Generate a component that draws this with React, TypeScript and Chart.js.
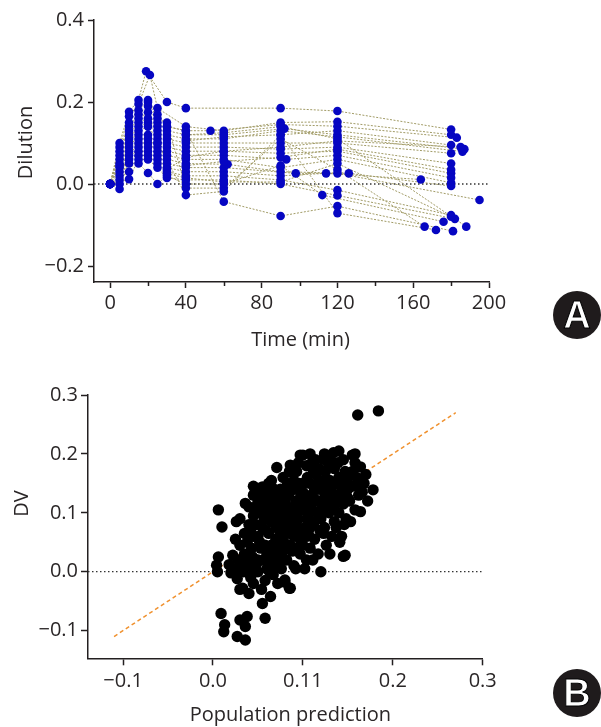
import React, { useEffect, useRef } from "react";
import { Chart, registerables } from "chart.js";
Chart.register(...registerables);

const FONT = "'Open Sans', 'Noto Sans', sans-serif";
const TEXT = "#2a2627";
const AXIS = "#231f20";
const TICK_SIZE = 20;
const TITLE_SIZE = 20;

// ---------- Panel A data ----------
const timeMin = -8.5;
const timeMax = 200;
const dilutionMin = -0.239;
const dilutionMax = 0.4;
const timeTicks = [0, 40, 80, 120, 160, 200];
const timeTickLabels = ["0", "40", "80", "120", "160", "200"];
const timeMinorTicks = [20, 60, 100, 140, 180];
const dilutionTicks = [-0.2, 0, 0.2, 0.4];
const dilutionTickLabels = ["\u22120.2", "0.0", "0.2", "0.4"];

const subjectTimes: number[][] = [
  [0, 5, 10, 15, 19, 30, 40, 90, 120, 180],
  [0, 5, 10, 15, 21, 25, 40, 60, 90, 120, 180],
  [0, 5, 10, 15, 20, 25, 30, 40, 53, 90, 120, 183],
  [0, 5, 10, 15, 20, 25, 30, 40, 60, 92, 120, 187],
  [0, 5, 10, 15, 20, 25, 30, 40, 60, 90, 120, 186],
  [0, 5, 10, 15, 20, 25, 30, 40, 60, 90, 120, 180],
  [0, 5, 10, 15, 20, 25, 30, 40, 60, 90, 120, 180],
  [0, 5, 10, 15, 20, 25, 30, 40, 60, 90, 120, 180],
  [0, 5, 10, 15, 20, 25, 30, 40, 60, 93, 120, 180],
  [0, 5, 10, 15, 20, 25, 30, 40, 60, 90, 120, 180],
  [0, 5, 10, 15, 20, 25, 30, 40, 62, 90, 126, 180],
  [0, 5, 10, 15, 20, 25, 30, 40, 60, 98, 120, 195],
  [0, 5, 10, 15, 20, 25, 30, 40, 60, 90, 114, 164],
  [0, 10, 15, 20, 25, 30, 40, 60, 90, 120, 180],
  [0, 10, 15, 20, 25, 30, 40, 60, 90, 120, 182],
  [15, 20, 25, 30, 40, 60, 90, 112, 176],
  [20, 25, 30, 40, 60, 90, 120, 166],
  [25, 40, 60, 90, 120, 172],
  [30, 40, 60, 90, 120, 181],
  [40, 60, 90, 120, 188],
  [40, 60, 90, 120, 180],
  [30, 40, 60, 90, 120, 185],
  [40, 60, 90, 120, 180],
  [30, 40, 60, 90, 120, 180],
];
const subjectDilution: number[][] = [
  [0, 0.10, 0.176, 0.205, 0.275, 0.20, 0.185, 0.185, 0.178, 0.133],
  [0, 0.09, 0.165, 0.195, 0.266, 0.185, 0.14, 0.13, 0.15, 0.152, 0.12],
  [0, 0.08, 0.15, 0.18, 0.205, 0.17, 0.14, 0.13, 0.13, 0.145, 0.141, 0.113],
  [0, 0.07, 0.14, 0.17, 0.19, 0.15, 0.13, 0.12, 0.12, 0.135, 0.12, 0.085],
  [0, 0.06, 0.13, 0.16, 0.175, 0.14, 0.12, 0.11, 0.11, 0.13, 0.115, 0.079],
  [0, 0.05, 0.12, 0.15, 0.16, 0.13, 0.11, 0.10, 0.10, 0.10, 0.10, 0.075],
  [0, 0.04, 0.11, 0.14, 0.15, 0.12, 0.10, 0.09, 0.09, 0.085, 0.09, 0.05],
  [0, 0.03, 0.10, 0.13, 0.14, 0.11, 0.09, 0.08, 0.08, 0.075, 0.08, 0.026],
  [0, 0.02, 0.09, 0.12, 0.12, 0.10, 0.08, 0.07, 0.07, 0.06, 0.07, 0.015],
  [0, 0.01, 0.08, 0.11, 0.11, 0.09, 0.07, 0.06, 0.06, 0.04, 0.06, 0.003],
  [0, 0.0, 0.07, 0.10, 0.10, 0.08, 0.06, 0.05, 0.048, 0.03, 0.026, -0.005],
  [0, -0.012, 0.06, 0.09, 0.09, 0.07, 0.05, 0.04, 0.04, 0.026, 0.026, -0.039],
  [0, 0.045, 0.05, 0.08, 0.08, 0.06, 0.04, 0.03, 0.03, 0.02, 0.026, 0.011],
  [0, 0.03, 0.07, 0.07, 0.05, 0.03, 0.02, 0.02, 0.01, -0.015, -0.076],
  [0, 0.012, 0.06, 0.06, 0.04, 0.015, 0.01, 0.01, 0.0, -0.028, -0.085],
  [0.05, 0.027, 0.0, 0.02, 0.0, 0.0, 0.045, -0.027, -0.092],
  [0.2, 0.16, 0.15, -0.01, -0.01, 0.11, 0.035, -0.104],
  [0.10, -0.027, -0.018, 0.12, -0.071, -0.112],
  [0.14, 0.13, -0.043, -0.078, -0.054, -0.115],
  [0.12, 0.125, 0.14, 0.11, -0.104],
  [0.105, 0.115, 0.12, 0.13, 0.095],
  [0.035, 0.065, 0.08, 0.09, 0.105, 0.09],
  [0.045, 0.055, 0.065, 0.085, 0.035],
  [0.025, 0.015, 0.005, 0.005, 0.05, -0.08],
];

// ---------- Panel B data ----------
const predMin = -0.139;
const predMax = 0.3;
const dvMin = -0.147;
const dvMax = 0.3;
const predTicks = [-0.1, 0, 0.1, 0.2, 0.3];
const predTickLabels = ["\u22120.1", "0.0", "0.11", "0.2", "0.3"];
const dvTicks = [-0.1, 0, 0.1, 0.2, 0.3];
const dvTickLabels = ["\u22120.1", "0.0", "0.1", "0.2", "0.3"];
const identityRange = [-0.11, 0.27];

const populationPrediction = [
  0.006, 0.010, 0.006, 0.005, 0.004, 0.009, 0.013, 0.012,
  0.018, 0.022, 0.025, 0.027, 0.028, 0.020, 0.027, 0.030, 0.030, 0.026, 0.030,
  0.036, 0.038, 0.036, 0.040, 0.033, 0.036, 0.045, 0.042, 0.035, 0.040, 0.042, 0.038, 0.044, 0.034, 0.045, 0.040, 0.043, 0.045,
  0.055, 0.058, 0.055, 0.050, 0.052, 0.048, 0.050, 0.053, 0.056, 0.050, 0.058, 0.047, 0.055, 0.060, 0.057, 0.059, 0.052, 0.060, 0.049, 0.060, 0.054, 0.058,
  0.064, 0.071, 0.071, 0.064, 0.066, 0.068, 0.062, 0.065, 0.070, 0.063, 0.067, 0.072, 0.074, 0.070, 0.073, 0.069, 0.075, 0.062, 0.066, 0.072, 0.068, 0.074, 0.061, 0.075,
  0.082, 0.086, 0.080, 0.086, 0.085, 0.080, 0.078, 0.080, 0.083, 0.077, 0.085, 0.079, 0.088, 0.082, 0.076, 0.090, 0.087, 0.084, 0.090, 0.081, 0.089, 0.078, 0.090, 0.086,
  0.097, 0.100, 0.093, 0.096, 0.100, 0.092, 0.098, 0.095, 0.102, 0.094, 0.100, 0.097, 0.104, 0.092, 0.105, 0.103, 0.099, 0.105, 0.093, 0.102, 0.091, 0.104,
  0.120, 0.110, 0.115, 0.108, 0.118, 0.112, 0.107, 0.116, 0.110, 0.119, 0.113, 0.108, 0.117, 0.111, 0.120, 0.114, 0.106, 0.118, 0.120, 0.109,
  0.123, 0.134, 0.125, 0.130, 0.127, 0.133, 0.122, 0.129, 0.135, 0.124, 0.132, 0.126, 0.130, 0.121, 0.135, 0.128, 0.134, 0.123,
  0.147, 0.145, 0.140, 0.142, 0.138, 0.145, 0.140, 0.148, 0.137, 0.143, 0.150, 0.147, 0.139, 0.149, 0.141, 0.146,
  0.155, 0.158, 0.164, 0.164, 0.160, 0.155, 0.162, 0.152, 0.158, 0.161, 0.153, 0.161,
  0.178, 0.168, 0.172, 0.170, 0.184, 0.166,
  0.045, 0.050, 0.048, 0.053, 0.057, 0.062, 0.060, 0.065, 0.068, 0.070, 0.072, 0.076, 0.078, 0.080, 0.083, 0.088, 0.092, 0.095, 0.098, 0.100,
  0.102, 0.106, 0.110, 0.113, 0.116, 0.120, 0.125, 0.128, 0.131, 0.136, 0.140, 0.144, 0.150, 0.155, 0.152, 0.158, 0.062, 0.066, 0.070, 0.075,
  0.079, 0.083, 0.088, 0.094, 0.098, 0.104, 0.108, 0.112, 0.058, 0.055, 0.050, 0.045, 0.040, 0.035, 0.030, 0.025, 0.030, 0.065, 0.085, 0.095,
  0.112, 0.118, 0.125, 0.130, 0.145, 0.140, 0.124, 0.108, 0.077, 0.063, 0.072, 0.045, 0.039,
];
const observedDV = [
  0.105, 0.076, 0.025, 0.0, 0.011, -0.071, -0.09, -0.102,
  0.012, 0.028, 0.004, -0.012, 0.02, -0.002, -0.110, -0.082, 0.09, 0.085, -0.03,
  -0.116, -0.076, -0.093, -0.037, -0.028, 0.116, 0.13, 0.071, 0.03, 0.01, -0.01, 0.05, 0.025, 0.0, 0.095, 0.11, 0.04, -0.02,
  0.144, -0.079, -0.054, 0.12, 0.1, 0.08, 0.06, 0.04, 0.02, 0.0, -0.015, 0.11, 0.125, 0.14, 0.09, 0.07, 0.05, 0.03, 0.015, 0.005, -0.03, 0.11,
  -0.042, 0.177, 0.13, 0.12, 0.1, 0.085, 0.065, 0.045, 0.03, 0.01, -0.005, 0.015, 0.06, 0.075, 0.095, 0.115, 0.14, 0.15, 0.135, 0.045, 0.005, 0.11, 0.09, 0.02,
  0.144, 0.181, -0.014, -0.028, -0.028, -0.018, 0.16, 0.12, 0.1, 0.08, 0.065, 0.05, 0.035, 0.02, 0.005, 0.01, 0.09, 0.13, 0.155, 0.07, 0.11, 0.035, 0.06, 0.045,
  0.198, 0.198, 0.17, 0.15, 0.135, 0.12, 0.105, 0.09, 0.075, 0.06, 0.045, 0.03, 0.02, 0.005, 0.16, 0.12, 0.065, 0.09, 0.04, 0.005, 0.14, 0.18,
  0.0, 0.185, 0.165, 0.15, 0.14, 0.125, 0.11, 0.1, 0.085, 0.07, 0.055, 0.04, 0.03, 0.02, 0.12, 0.19, 0.065, 0.155, 0.09, 0.13,
  0.191, 0.202, 0.17, 0.155, 0.14, 0.125, 0.11, 0.1, 0.085, 0.075, 0.06, 0.045, 0.03, 0.15, 0.175, 0.185, 0.11, 0.065,
  0.028, 0.026, 0.16, 0.145, 0.13, 0.115, 0.1, 0.09, 0.075, 0.06, 0.14, 0.17, 0.185, 0.155, 0.05, 0.08,
  0.198, 0.2, 0.178, 0.102, 0.16, 0.145, 0.13, 0.12, 0.105, 0.145, 0.085, 0.266,
  0.139, 0.15, 0.12, 0.165, 0.273, 0.135,
  0.145, 0.135, 0.1, 0.115, 0.105, 0.11, 0.125, 0.155, 0.14, 0.12, 0.1, 0.09, 0.11, 0.135, 0.15, 0.14, 0.1, 0.115, 0.13, 0.15,
  0.11, 0.095, 0.105, 0.14, 0.12, 0.105, 0.13, 0.12, 0.14, 0.15, 0.12, 0.135, 0.125, 0.17, 0.165, 0.185, 0.04, 0.02, 0.055, 0.04,
  0.065, 0.08, 0.075, 0.075, 0.05, 0.06, 0.075, 0.08, 0.045, 0.075, 0.02, 0.06, 0.08, 0.065, 0.045, 0.055, 0.01, 0.085, 0.17, 0.185,
  0.17, 0.175, 0.155, 0.19, 0.19, 0.205, 0.2, 0.2, 0.125, 0.0, -0.02, 0.0, 0.02,
];

const minorTickPlugin = {
  id: "minorTicks",
  afterDraw(chart: any, _args: any, opts: any) {
    if (!opts || !opts.values) return;
    const sx = chart.scales.x;
    const ctx = chart.ctx;
    const bottom = chart.chartArea.bottom;
    ctx.save();
    ctx.strokeStyle = AXIS;
    ctx.lineWidth = 1.5;
    opts.values.forEach((v: number) => {
      const px = Math.round(sx.getPixelForValue(v)) + 0.5;
      ctx.beginPath();
      ctx.moveTo(px, bottom);
      ctx.lineTo(px, bottom + opts.length);
      ctx.stroke();
    });
    ctx.restore();
  },
};

// draws the axis titles at the offsets seen in the reference
const axisTitlePlugin = {
  id: "axisTitles",
  afterDraw(chart: any, _args: any, opts: any) {
    if (!opts || !opts.x) return;
    const ctx = chart.ctx;
    const ca = chart.chartArea;
    ctx.save();
    ctx.fillStyle = TEXT;
    ctx.font = `${TITLE_SIZE}px ${FONT}`;
    ctx.textAlign = "center";
    ctx.textBaseline = "middle";
    ctx.fillText(opts.x.text, (ca.left + ca.right) / 2 + opts.x.dx, opts.x.y);
    ctx.translate(opts.y.x, (ca.top + ca.bottom) / 2 + opts.y.dy);
    ctx.rotate(-Math.PI / 2);
    ctx.fillText(opts.y.text, 0, 0);
    ctx.restore();
  },
};

function axisOpts(o: {
  min: number; max: number; ticks: number[]; labels: string[];
  tickLength: number; tickPad: number; fitSize: number; horizontal: boolean;
}) {
  return {
    type: "linear",
    min: o.min,
    max: o.max,
    afterBuildTicks: (scale: any) => {
      scale.ticks = o.ticks.map((v) => ({ value: v }));
    },
    afterFit: (scale: any) => {
      if (o.horizontal) scale.height = o.fitSize;
      else scale.width = o.fitSize;
    },
    border: { display: true, color: AXIS, width: 1.5 },
    grid: {
      display: true,
      drawOnChartArea: false,
      drawTicks: true,
      tickLength: o.tickLength,
      tickColor: AXIS,
      tickWidth: 1.5,
    },
    ticks: {
      autoSkip: false,
      maxRotation: 0,
      padding: o.tickPad,
      color: TEXT,
      font: { family: FONT, size: TICK_SIZE },
      callback: (_v: any, i: number) => o.labels[i],
    },
    title: { display: false },
  };
}

function PanelA() {
  const ref = useRef<HTMLCanvasElement | null>(null);
  useEffect(() => {
    if (!ref.current) return;
    const points: { x: number; y: number }[] = [];
    const lineSets: any[] = subjectTimes.map((ts, i) => {
      const data = ts.map((t, j) => ({ x: t, y: subjectDilution[i][j] }));
      data.forEach((d) => points.push(d));
      return {
        data,
        showLine: true,
        borderColor: "#a19b66",
        borderWidth: 1,
        borderDash: [2, 1.5],
        pointRadius: 0,
        order: 2,
      };
    });
    const chart = new Chart(ref.current, {
      type: "scatter",
      data: {
        datasets: [
          {
            data: points,
            backgroundColor: "#0606c2",
            borderWidth: 0,
            pointRadius: 4.3,
            order: 0,
          } as any,
          {
            data: [{ x: timeMin, y: 0 }, { x: timeMax, y: 0 }],
            showLine: true,
            borderColor: "#333333",
            borderWidth: 1.3,
            borderDash: [1.5, 2.5],
            pointRadius: 0,
            order: 3,
          },
          ...lineSets,
        ],
      },
      options: {
        responsive: false,
        animation: false,
        events: [],
        layout: { padding: { top: 20, right: 112, left: 0, bottom: 0 } },
        plugins: {
          legend: { display: false },
          tooltip: { enabled: false },
          minorTicks: { values: timeMinorTicks, length: 4 },
          axisTitles: {
            x: { text: "Time (min)", dx: 9, y: 340 },
            y: { text: "Dilution", x: 26, dy: -8.5 },
          },
        } as any,
        scales: {
          x: axisOpts({
            min: timeMin, max: timeMax, ticks: timeTicks, labels: timeTickLabels,
            tickLength: 6, tickPad: 3, fitSize: 78, horizontal: true,
          }) as any,
          y: axisOpts({
            min: dilutionMin, max: dilutionMax, ticks: dilutionTicks, labels: dilutionTickLabels,
            tickLength: 6, tickPad: 4, fitSize: 94, horizontal: false,
          }) as any,
        },
      },
      plugins: [minorTickPlugin as any, axisTitlePlugin as any],
    });
    return () => chart.destroy();
  }, []);
  return <canvas ref={ref} width={601} height={360} style={{ position: "absolute", left: 0, top: 0, display: "block" }} />;
}

function PanelB() {
  const ref = useRef<HTMLCanvasElement | null>(null);
  useEffect(() => {
    if (!ref.current) return;
    const points = populationPrediction.map((p, i) => ({ x: p, y: observedDV[i] }));
    const chart = new Chart(ref.current, {
      type: "scatter",
      data: {
        datasets: [
          {
            data: points,
            backgroundColor: "#000000",
            borderWidth: 0,
            pointRadius: 5.7,
            order: 0,
          } as any,
          {
            data: [{ x: identityRange[0], y: identityRange[0] }, { x: identityRange[1], y: identityRange[1] }],
            showLine: true,
            borderColor: "#f0912e",
            borderWidth: 1.5,
            borderDash: [4, 3],
            pointRadius: 0,
            order: 2,
          },
          {
            data: [{ x: predMin, y: 0 }, { x: predMax, y: 0 }],
            showLine: true,
            borderColor: "#333333",
            borderWidth: 1.3,
            borderDash: [1.5, 2.5],
            pointRadius: 0,
            order: 3,
          },
        ],
      },
      options: {
        responsive: false,
        animation: false,
        events: [],
        layout: { padding: { top: 35, right: 118.3, left: 0, bottom: 0 } },
        plugins: {
          legend: { display: false },
          tooltip: { enabled: false },
          axisTitles: {
            x: { text: "Population prediction", dx: 5, y: 355 },
            y: { text: "DV", x: 22.7, dy: -23 },
          },
        } as any,
        scales: {
          x: axisOpts({
            min: predMin, max: predMax, ticks: predTicks, labels: predTickLabels,
            tickLength: 7, tickPad: 4, fitSize: 68.7, horizontal: true,
          }) as any,
          y: axisOpts({
            min: dvMin, max: dvMax, ticks: dvTicks, labels: dvTickLabels,
            tickLength: 7, tickPad: 3, fitSize: 88, horizontal: false,
          }) as any,
        },
      },
      plugins: [axisTitlePlugin as any],
    });
    return () => chart.destroy();
  }, []);
  return <canvas ref={ref} width={601} height={367} style={{ position: "absolute", left: 0, top: 360, display: "block" }} />;
}

function Badge({ letter, cx, cy }: { letter: string; cx: number; cy: number }) {
  const r = 24;
  return (
    <div
      style={{
        position: "absolute",
        left: cx - r,
        top: cy - r,
        width: r * 2,
        height: r * 2,
        borderRadius: "50%",
        background: "#1f1b1c",
        color: "#ffffff",
        fontFamily: "'Liberation Sans', Arial, sans-serif",
        fontWeight: 700,
        fontSize: 38,
        lineHeight: `${r * 2}px`,
        textAlign: "center",
        WebkitTextStroke: "1px #000",
      }}
    >
      {letter}
    </div>
  );
}

export default function App() {
  return (
    <div style={{ position: "absolute", left: 0, top: 0, width: 601, height: 727, background: "#ffffff", overflow: "hidden" }}>
      <PanelA />
      <PanelB />
      <Badge letter="A" cx={577} cy={315} />
      <Badge letter="B" cx={577} cy={693} />
    </div>
  );
}
